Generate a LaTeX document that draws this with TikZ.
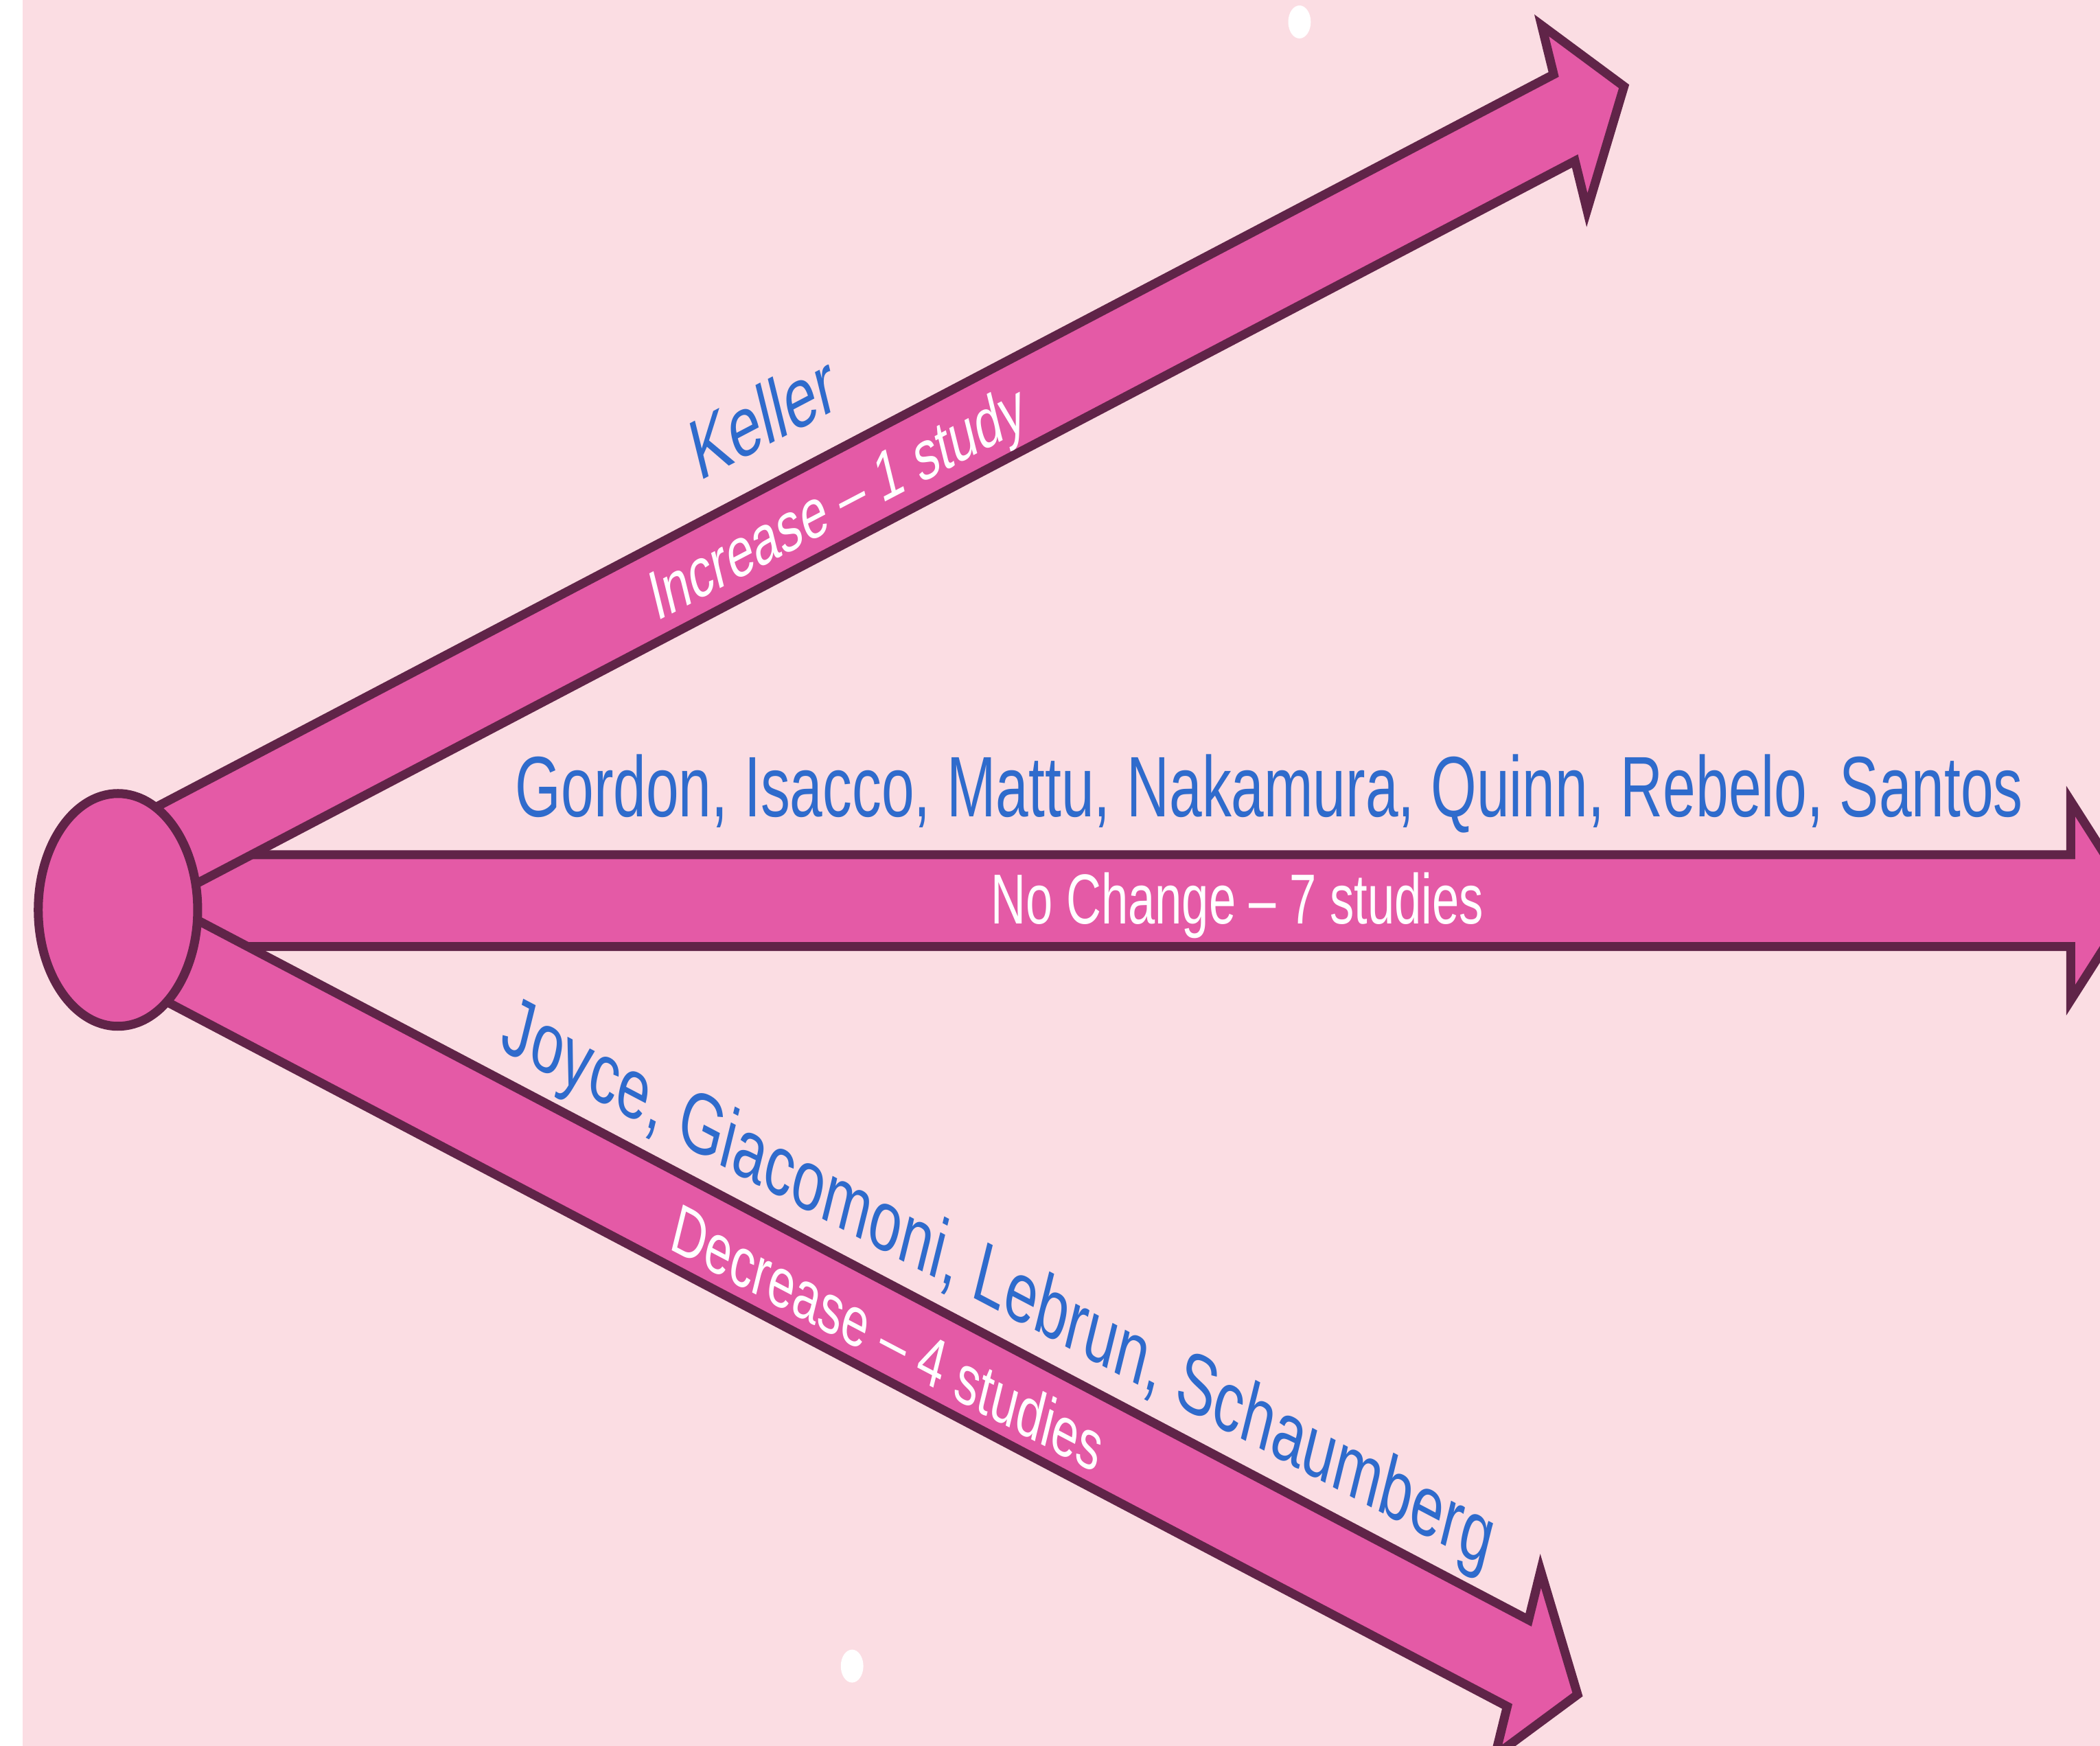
\documentclass[tikz,border=0pt]{standalone}
\usepackage{fontspec}
\setmainfont{Liberation Sans}
\definecolor{bgpink}{HTML}{FBDDE3}
\definecolor{arrowfill}{HTML}{E45AA6}
\definecolor{arrowline}{HTML}{602448}
\definecolor{nameblue}{HTML}{2F6BCC}
\begin{document}
\begin{tikzpicture}[
  bigarrow/.style={fill=arrowfill, draw=arrowline, line width=3.7pt, line join=miter},
  namelabel/.style={text=nameblue, font=\fontsize{35.6}{40}\selectfont, inner sep=0pt, anchor=base west},
  countlabel/.style={text=white, font=\fontsize{29.3}{34}\selectfont, inner sep=0pt, anchor=base west},
  whitedot/.style={circle, fill=white, inner sep=0pt, minimum size=0.48cm}
]
\useasboundingbox (0,0) rectangle (30.59,-25.43);
\clip (0,0) rectangle (30.59,-25.43);
\fill[white] (0,0) rectangle (30.59,-25.43);
\fill[bgpink] (0.33,0) rectangle (30.59,-25.43);
\begin{scope}[x=0.01cm,y=-0.01cm,xscale=0.685,transform shape]
  % middle arrow
  \begin{scope}[shift={(251,1312.5)}]
    \draw[bigarrow] (0,-67) -- (4155,-67) -- (4155,-145) -- (4290,0) -- (4155,145) -- (4155,67) -- (0,67) -- cycle;
  \end{scope}
  % upper arrow
  \begin{scope}[shift={(251,1276.5)}, rotate=19.75]
    \draw[bigarrow] (0,-67) -- (3270,-67) -- (3270,-143) -- (3405,0) -- (3270,143) -- (3270,67) -- (0,67) -- cycle;
  \end{scope}
  % lower arrow
  \begin{scope}[shift={(251,1351.3)}, rotate=-19.8]
    \draw[bigarrow] (0,-67) -- (3166,-67) -- (3166,-143) -- (3301,0) -- (3166,143) -- (3166,67) -- (0,67) -- cycle;
  \end{scope}
  % hub
  \node[circle, bigarrow, inner sep=0pt, minimum size=3.39cm] (hub) at (251,1326) {};
  % labels
  \begin{scope}[shift={(251,1312.5)}]
    \node[namelabel] (gordon) at (845,-122.5) {Gordon, Isacco, Mattu, Nakamura, Quinn, Rebelo, Santos};
    \node[countlabel] (nochange) at (1857,33.5) {No Change – 7 studies};
  \end{scope}
  \begin{scope}[shift={(251,1276.5)}, rotate=19.75]
    \node[namelabel] (keller) at (1357,-123) {Keller};
    \node[countlabel] (increase) at (1203,39) {Increase – 1 study};
  \end{scope}
  \begin{scope}[shift={(251,1351.3)}, rotate=-19.8]
    \node[namelabel] (joyce) at (822,-108) {Joyce, Giacomoni, Lebrun, Schaumberg};
    \node[countlabel] (decrease) at (1260,44) {Decrease – 4 studies};
  \end{scope}
  % white dots
  \node[whitedot] (dottop) at (2765,32) {};
  \node[whitedot] (dotbottom) at (1813,2428) {};
\end{scope}
\end{tikzpicture}
\end{document}
